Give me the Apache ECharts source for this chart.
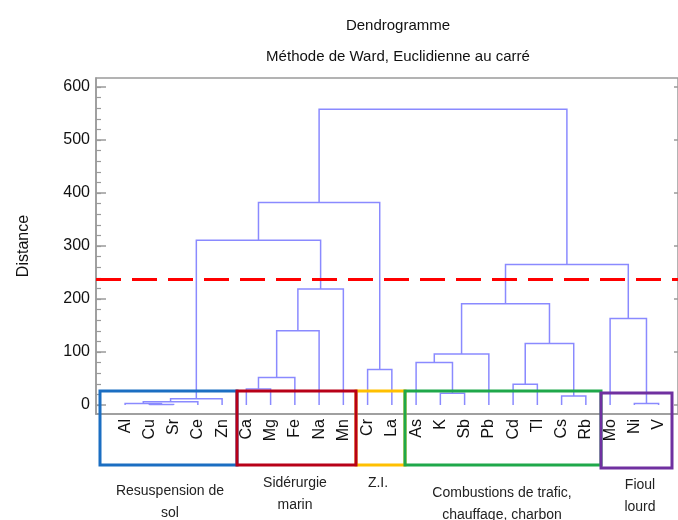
<!DOCTYPE html>
<html>
<head>
<meta charset="utf-8">
<script src="https://cdn.jsdelivr.net/npm/echarts@6/dist/echarts.min.js"></script>
<style>
  html, body { margin: 0; padding: 0; background: #fff; }
  #chart { width: 678px; height: 520px; }
</style>
</head>
<body>
<div id="chart"></div>
<script>
// Leaves of the dendrogram, in display order
const leaves = ['Al', 'Cu', 'Sr', 'Ce', 'Zn', 'Ca', 'Mg', 'Fe', 'Na', 'Mn', 'Cr', 'La',
                'As', 'K', 'Sb', 'Pb', 'Cd', 'Tl', 'Cs', 'Rb', 'Mo', 'Ni', 'V'];

// Ward linkage: node ids 0..22 are leaves, each merge creates the next id (23, 24, ...)
const mergeLeft   = [1, 0, 24, 25, 5, 27, 28, 29, 26, 10, 31, 13, 12, 35, 16, 18, 37, 36, 21, 20, 40, 33];
const mergeRight  = [2, 23, 3, 4, 6, 7, 8, 9, 30, 11, 32, 14, 34, 15, 17, 19, 38, 39, 22, 41, 42, 43];
const mergeHeight = [1, 3, 6, 12, 30, 52, 140, 219, 311, 67, 382, 22, 80, 96, 39, 17, 116, 191, 3, 163, 265, 558];

// Cut level for the cluster partition
const cutHeight = [237];

// Y axis labels
const yTickValues = [0, 100, 200, 300, 400, 500, 600];
const yMinorValues = [0, 20, 40, 60, 80, 100, 120, 140, 160, 180, 200, 220, 240, 260, 280, 300,
                      320, 340, 360, 380, 400, 420, 440, 460, 480, 500, 520, 540, 560, 580, 600];

// Source groups shown under the leaves
const groupNames = ['Resuspension de\nsol', 'Sidérurgie\nmarin', 'Z.I.',
                    'Combustions de trafic,\nchauffage, charbon', 'Fioul\nlourd'];

// Build the link polylines (⊓ shapes) from the linkage table
const nodeX = leaves.map((_, i) => i);
const nodeH = leaves.map(() => 0);
const links = [];
for (let k = 0; k < mergeHeight.length; k++) {
  const a = mergeLeft[k], b = mergeRight[k], h = mergeHeight[k];
  links.push({
    coords: [[nodeX[a], nodeH[a]], [nodeX[a], h], [nodeX[b], h], [nodeX[b], nodeH[b]]]
  });
  nodeX.push((nodeX[a] + nodeX[b]) / 2);
  nodeH.push(h);
}

const chart = echarts.init(document.getElementById('chart'));
const FONT = 'Liberation Sans, Arial, sans-serif';
const NARROW = 'Liberation Sans Narrow, Arial Narrow, sans-serif';
const frame = '#9a9a9a';

chart.setOption({
  animation: false,
  backgroundColor: '#fff',
  title: [
    { text: 'Dendrogramme', left: 393, top: 13, textAlign: 'center',
      textStyle: { fontFamily: FONT, fontSize: 15, fontWeight: 'normal', color: '#111' } },
    { text: 'Méthode de Ward, Euclidienne au carré', left: 393, top: 44, textAlign: 'center',
      textStyle: { fontFamily: FONT, fontSize: 15, fontWeight: 'normal', color: '#111' } }
  ],
  grid: {
    left: 96, top: 78, right: 0, bottom: 106,
    show: true, borderColor: frame, borderWidth: 1.5, backgroundColor: 'transparent'
  },
  xAxis: {
    type: 'value', min: -1.2, max: 22.8,
    splitLine: { show: false },
    axisLine: { show: true, onZero: false, lineStyle: { color: frame, width: 1.5 } },
    axisTick: { show: false },
    axisLabel: {
      customValues: leaves.map((_, i) => i),
      formatter: v => leaves[Math.round(v)],
      rotate: 90, margin: 5,
      fontFamily: FONT, fontSize: 16, color: '#111'
    }
  },
  yAxis: [
    {
      type: 'value', min: -17, max: 617, position: 'left',
      name: 'Distance', nameLocation: 'middle', nameRotate: 90, nameGap: 64,
      nameTextStyle: { fontFamily: FONT, fontSize: 16, color: '#111' },
      splitLine: { show: false },
      axisLine: { show: true, onZero: false, lineStyle: { color: frame, width: 1.5 } },
      axisTick: { show: true, inside: true, length: 10, customValues: yTickValues,
                  lineStyle: { color: frame, width: 1.5 } },
      axisLabel: { customValues: yTickValues, margin: 6,
                   fontFamily: FONT, fontSize: 16, color: '#111' }
    },
    {
      type: 'value', min: -17, max: 617, position: 'left',
      splitLine: { show: false },
      axisLine: { show: false, onZero: false },
      axisLabel: { show: false },
      axisTick: { show: true, inside: true, length: 5, customValues: yMinorValues,
                  lineStyle: { color: frame, width: 1.2 } }
    },
    {
      type: 'value', min: -17, max: 617, position: 'right',
      splitLine: { show: false },
      axisLine: { show: false, onZero: false },
      axisLabel: { show: false },
      axisTick: { show: true, inside: true, length: 4, customValues: yTickValues,
                  lineStyle: { color: frame, width: 1.5 } }
    }
  ],
  series: [
    {
      type: 'lines',
      coordinateSystem: 'cartesian2d',
      polyline: true,
      silent: true,
      lineStyle: { color: '#8a8aff', width: 1.5, opacity: 1 },
      data: links,
      z: 3
    },
    {
      type: 'line',
      data: [],
      symbol: 'none',
      markLine: {
        silent: true,
        symbol: 'none',
        label: { show: false },
        lineStyle: { color: '#ff0000', width: 3, type: [25, 11] },
        data: cutHeight.map(v => ({ yAxis: v }))
      },
      z: 4
    }
  ],
  graphic: [
    { type: 'rect', shape: { x: 100, y: 391, width: 137, height: 74 },
      style: { fill: 'none', stroke: '#1b6ec2', lineWidth: 3 }, z: 10 },
    { type: 'rect', shape: { x: 237, y: 391, width: 119, height: 74 },
      style: { fill: 'none', stroke: '#b80018', lineWidth: 3 }, z: 10 },
    { type: 'rect', shape: { x: 356, y: 391, width: 49, height: 74 },
      style: { fill: 'none', stroke: '#ffc000', lineWidth: 3 }, z: 9 },
    { type: 'rect', shape: { x: 405, y: 391, width: 196, height: 74 },
      style: { fill: 'none', stroke: '#1fa84a', lineWidth: 3 }, z: 10 },
    { type: 'rect', shape: { x: 601, y: 393, width: 71, height: 75 },
      style: { fill: 'none', stroke: '#7030a0', lineWidth: 3 }, z: 10 },
    { type: 'text', x: 170, y: 480, style: { text: groupNames[0], align: 'center',
      font: '14px ' + NARROW, fill: '#222', lineHeight: 22 } },
    { type: 'text', x: 295, y: 472, style: { text: groupNames[1], align: 'center',
      font: '14px ' + NARROW, fill: '#222', lineHeight: 22 } },
    { type: 'text', x: 378, y: 472, style: { text: groupNames[2], align: 'center',
      font: '14px ' + NARROW, fill: '#222', lineHeight: 22 } },
    { type: 'text', x: 502, y: 482, style: { text: groupNames[3], align: 'center',
      font: '14px ' + NARROW, fill: '#222', lineHeight: 22 } },
    { type: 'text', x: 640, y: 474, style: { text: groupNames[4], align: 'center',
      font: '14px ' + NARROW, fill: '#222', lineHeight: 22 } }
  ]
});
</script>
</body>
</html>
